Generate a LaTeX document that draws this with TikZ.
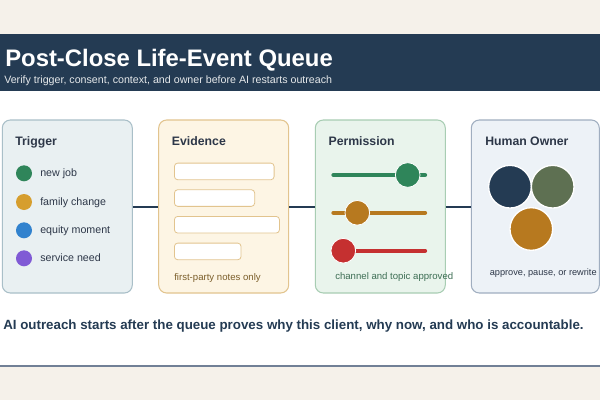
\documentclass[tikz,border=0pt]{standalone}
\usepackage{fontspec}
\setmainfont{Liberation Sans}
\usepackage{xcolor}
\usetikzlibrary{positioning}
\definecolor{cream}{HTML}{F5F1EA}
\definecolor{navy}{HTML}{243B53}
\definecolor{ink}{HTML}{2D3748}
\definecolor{rulegray}{HTML}{718096}
\definecolor{trigfill}{HTML}{E9F0F2}
\definecolor{trigline}{HTML}{A9BFC8}
\definecolor{evifill}{HTML}{FDF5E4}
\definecolor{eviline}{HTML}{E2C48E}
\definecolor{permfill}{HTML}{E9F4EC}
\definecolor{permline}{HTML}{A8CDB3}
\definecolor{humfill}{HTML}{EDF2F7}
\definecolor{humline}{HTML}{A0AEC0}
\definecolor{cgreen}{HTML}{2F855A}
\definecolor{cgold}{HTML}{D69E2E}
\definecolor{cblue}{HTML}{3182CE}
\definecolor{cpurple}{HTML}{805AD5}
\definecolor{corange}{HTML}{B7791F}
\definecolor{cred}{HTML}{C53030}
\definecolor{colive}{HTML}{5E7052}
\definecolor{evinote}{HTML}{7B5E2A}
\definecolor{permnote}{HTML}{3D6E54}

\begin{document}
\begin{tikzpicture}[
  x=0.75pt, y=-0.75pt,
  panel/.style={rectangle, rounded corners=6pt, line width=0.8pt,
                minimum width=97.5pt, minimum height=129.75pt},
  paneltitle/.style={anchor=base west, text=ink, inner sep=0pt,
                font=\fontsize{9.2}{11}\selectfont\bfseries},
  itemtext/.style={anchor=mid west, text=ink, inner sep=0pt, font=\fontsize{8}{10}\selectfont},
  notetext/.style={anchor=mid west, inner sep=0pt, font=\fontsize{7.2}{9}\selectfont},
  dot/.style={circle, inner sep=0pt, minimum size=12pt},
  field/.style={rectangle, draw=eviline, fill=white, rounded corners=2.5pt,
                line width=0.6pt, anchor=north west, minimum height=12.5pt, inner sep=0pt},
  track/.style={line width=3.2pt, line cap=round},
  knob/.style={circle, draw=white, line width=0.6pt, inner sep=0pt, minimum size=18.5pt},
  owner/.style={circle, draw=white, line width=1pt, inner sep=0pt, minimum size=32pt},
  link/.style={draw=navy, line width=1.5pt}
]
\useasboundingbox (0,0) rectangle (600,400);

% Page and header
\fill[cream] (0,0) rectangle (600,400);
\fill[white] (0,34) rectangle (600,366);
\fill[navy] (0,34) rectangle (600,91);
\draw[rulegray, line width=1.5pt] (0,366) -- (600,366);
\node[anchor=base west, text=white, inner sep=0pt,
      font=\fontsize{17.9}{20}\selectfont\bfseries] (title) at (5,66) {Post-Close Life-Event Queue};
\node[anchor=mid west, text=white!88!navy, inner sep=0pt,
      font=\fontsize{8}{9}\selectfont] (subtitle) at (4,80) {Verify trigger, consent, context, and owner before AI restarts outreach};

% Panels
\node[panel, draw=trigline, fill=trigfill] (trigger) at (67.3,206.5) {};
\node[panel, draw=eviline, fill=evifill] (evidence) at (223.7,206.5) {};
\node[panel, draw=permline, fill=permfill] (permission) at (380.3,206.5) {};
\node[panel, draw=humline, fill=humfill, minimum width=96pt] (human) at (535.3,206.5) {};

% Connectors
\draw[link] (trigger.east) -- (evidence.west);
\draw[link] (evidence.east) -- (permission.west);
\draw[link] (permission.east) -- (human.west);

% Trigger
\node[paneltitle] (trigtitle) at (15,145) {Trigger};
\foreach \y/\c/\t [count=\i] in {173.3/cgreen/new job, 202/cgold/family change,
                                 230.3/cblue/equity moment, 258.3/cpurple/service need}{
  \node[dot, fill=\c] (dot\i) at (24,\y) {};
  \node[itemtext] (item\i) at (40,\y) {\t};
}

% Evidence
\node[paneltitle] (evititle) at (171.7,145) {Evidence};
\node[field, minimum width=74.8pt] (field1) at (174,162.7) {};
\node[field, minimum width=60.2pt] (field2) at (174,189.3) {};
\node[field, minimum width=78.8pt] (field3) at (174,216) {};
\node[field, minimum width=50pt] (field4) at (174,242.7) {};
\node[notetext, text=evinote] (evinotes) at (174,276.7) {first-party notes only};

% Permission
\node[paneltitle] (permtitle) at (328.3,145) {Permission};
\foreach \y/\c/\k [count=\i] in {175/cgreen/407.7, 212.8/corange/357.3, 250.7/cred/343.3}{
  \draw[track, \c] (333.5,\y) -- (425,\y);
  \node[knob, fill=\c] (knob\i) at (\k,\y) {};
}
\node[notetext, text=permnote] (permnotes) at (335,276) {channel and topic approved};

% Human owner
\node[paneltitle] (humtitle) at (485,145) {Human Owner};
\node[owner, fill=navy] (ownerA) at (510,186.7) {};
\node[owner, fill=colive] (ownerB) at (552.7,186.7) {};
\node[owner, fill=corange] (ownerC) at (531.3,229) {};
\node[notetext, text=ink, font=\fontsize{6.9}{9}\selectfont] (humnotes) at (489.5,272) {approve, pause, or rewrite};

% Bottom line
\node[anchor=mid west, text=navy, inner sep=0pt,
      font=\fontsize{10}{12}\selectfont\bfseries] (takeaway) at (3,326)
      {AI outreach starts after the queue proves why this client, why now, and who is accountable.};
\end{tikzpicture}
\end{document}
